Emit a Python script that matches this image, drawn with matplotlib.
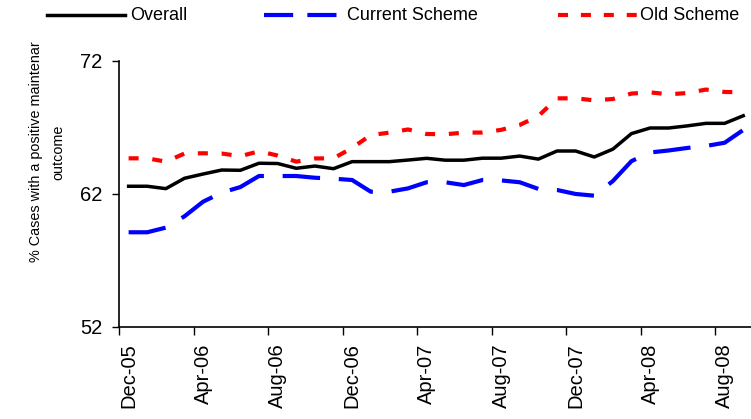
import matplotlib
matplotlib.use("Agg")
import matplotlib.pyplot as plt
from matplotlib.lines import Line2D
from matplotlib.ticker import FixedLocator

plt.rcParams['font.family'] = ['Liberation Sans', 'DejaVu Sans']

# monthly values, Dec-05 .. Sep-08
months = ['Dec-05', 'Jan-06', 'Feb-06', 'Mar-06', 'Apr-06', 'May-06', 'Jun-06', 'Jul-06',
          'Aug-06', 'Sep-06', 'Oct-06', 'Nov-06', 'Dec-06', 'Jan-07', 'Feb-07', 'Mar-07',
          'Apr-07', 'May-07', 'Jun-07', 'Jul-07', 'Aug-07', 'Sep-07', 'Oct-07', 'Nov-07',
          'Dec-07', 'Jan-08', 'Feb-08', 'Mar-08', 'Apr-08', 'May-08', 'Jun-08', 'Jul-08',
          'Aug-08', 'Sep-08']
overall = [62.56, 62.56, 62.38, 63.16, 63.48, 63.78, 63.76, 64.29, 64.27, 63.91, 64.08, 63.88,
           64.41, 64.41, 64.41, 64.53, 64.66, 64.52, 64.52, 64.67, 64.67, 64.83, 64.60, 65.21,
           65.21, 64.76, 65.35, 66.52, 66.94, 66.94, 67.10, 67.29, 67.29, 67.86]
current = [59.10, 59.10, 59.45, 60.30, 61.40, 62.08, 62.50, 63.33, 63.33, 63.33, 63.20, 63.13,
           63.03, 62.15, 62.15, 62.40, 62.86, 62.86, 62.65, 63.03, 63.00, 62.86, 62.36, 62.28,
           61.98, 61.85, 62.95, 64.45, 65.10, 65.25, 65.44, 65.59, 65.83, 66.79]
old = [64.66, 64.66, 64.41, 65.02, 65.04, 65.02, 64.82, 65.19, 64.87, 64.41, 64.65, 64.66,
       65.44, 66.41, 66.59, 66.83, 66.49, 66.47, 66.59, 66.60, 66.80, 67.17, 67.84, 69.17,
       69.17, 69.02, 69.12, 69.53, 69.62, 69.47, 69.57, 69.83, 69.65, 69.62]
yticks = [52, 62, 72]

W, H = 751, 419
fig = plt.figure(figsize=(W / 100, H / 100), dpi=100)
ax = fig.add_axes([119.3 / W, (H - 326.7) / H, (W - 119.3) / W, (326.7 - 60.7) / H])

styles = [
    ('Overall', overall, dict(color='black', lw=2.5, linestyle='-')),
    ('Current Scheme', current, dict(color='#0000ff', lw=3.0, linestyle=(0, (9, 4.5)))),
    ('Old Scheme', old, dict(color='#ff0000', lw=3.0, linestyle=(0, (2.4, 3.3)))),
]

x = list(range(len(months)))
for name, vals, st in styles:
    ax.plot(x, vals, dash_capstyle='butt', label=name, **st)

ax.set_xlim(-0.5, -0.5 + (W - 119.3) / 18.625)
ax.set_ylim(52, 72)

ax.set_yticks(yticks)
ax.tick_params(axis='y', direction='out', length=5, width=1, labelsize=14.5, pad=7)

# labels on the category, tick marks between categories
ax.set_xticks(x[::4])
ax.set_xticklabels(months[::4], rotation=90, va='top', ha='center')
ax.xaxis.set_minor_locator(FixedLocator([i - 0.5 for i in x[::4]]))
ax.tick_params(axis='x', which='major', length=0, labelsize=14.5, pad=12)
ax.tick_params(axis='x', which='minor', direction='out', length=6, width=1)

for s in ['top', 'right']:
    ax.spines[s].set_visible(False)
for s in ['left', 'bottom']:
    ax.spines[s].set_linewidth(1.2)

fig.text(47 / W, 1 - 152 / H, '% Cases with a positive maintenar\noutcome', rotation=90,
         ha='center', va='center', multialignment='center', fontsize=10.4, linespacing=1.8)

# legend row drawn by hand, pixel positions taken from the original
leg_y = 1 - 15 / H
leg_pos = [(47, 125, 130), (264, 337, 347), (558, 637, 640)]
leg_dash = ['-', (0, (7, 3.4)), (0, (2.4, 3.1))]
for (name, vals, st), (x0, x1, xt), ls in zip(styles, leg_pos, leg_dash):
    st = dict(st)
    st['linestyle'] = ls
    fig.add_artist(Line2D([x0 / W, x1 / W], [leg_y, leg_y], transform=fig.transFigure,
                          dash_capstyle='butt', **st))
    fig.text(xt / W, leg_y, name, ha='left', va='center', fontsize=13)

fig.savefig('out.png', dpi=100)
